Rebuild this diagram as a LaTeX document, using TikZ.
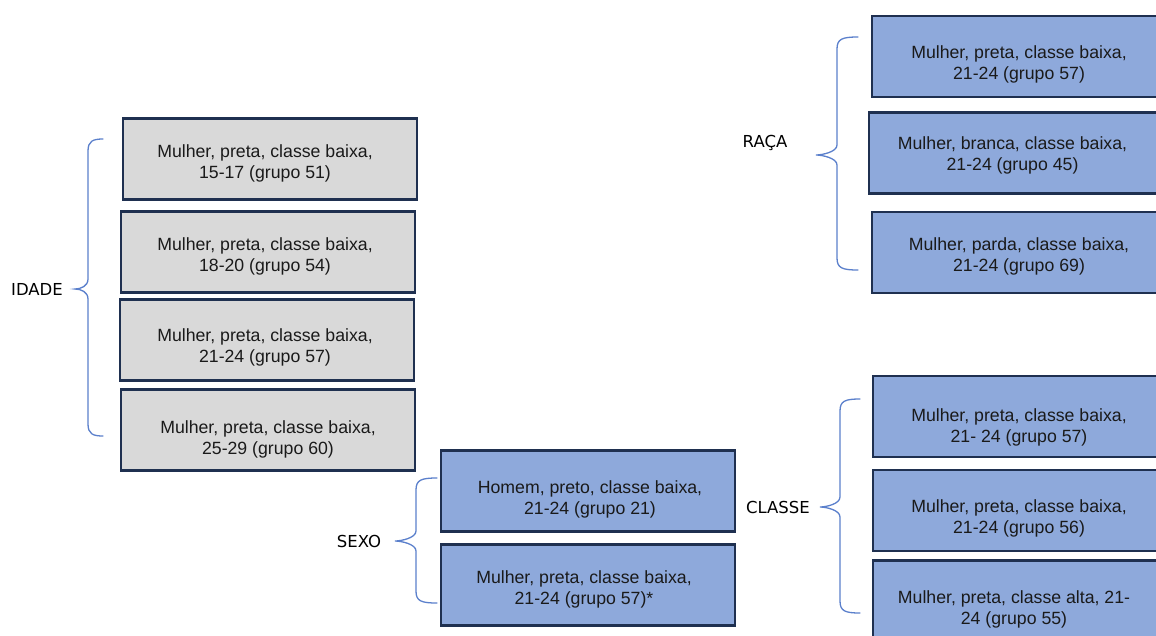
\documentclass[tikz,border=0pt]{standalone}
\usepackage{fontspec}
\setmainfont{Liberation Sans}
\newfontfamily\labfont{DejaVu Sans}
\definecolor{boxborder}{HTML}{1F3050}
\definecolor{grayfill}{HTML}{D9D9D9}
\definecolor{bluefill}{HTML}{8EA9DB}
\definecolor{bracecol}{HTML}{5B80CC}
\definecolor{txt}{HTML}{1A1A1A}
\newcommand\mybrace[6]{%
  \draw[bracecol,line width=1.3pt,line cap=round]
    (#1,#4) .. controls ({#2+5},#4) and (#2,{#4+2}) .. (#2,{#4+12})
    -- (#2,{#5-10}) .. controls (#2,{#5-3}) and ({#3+6},#5) .. (#3,#5)
    .. controls ({#3+6},#5) and (#2,{#5+3}) .. (#2,{#5+10})
    -- (#2,{#6-12}) .. controls (#2,{#6-2}) and ({#2+5},#6) .. (#1,#6);}
\tikzset{
  cbox/.style={draw=boxborder,line width=2.6pt,inner sep=0pt,minimum height=81pt},
  gbox/.style={cbox,fill=grayfill,minimum width=294pt},
  bbox/.style={cbox,fill=bluefill},
  btxt/.style={align=center,text=txt,font=\fontsize{17.7}{21}\selectfont,inner sep=0pt},
  lab/.style={font=\labfont\fontsize{16.5}{19}\selectfont,text=black,inner sep=0pt}
}
\begin{document}
\begin{tikzpicture}[x=1pt,y=-1pt]
\clip (0,0) rectangle (1156,635);
\fill[white] (0,0) rectangle (1156,635);
% IDADE
\node[gbox] (i1) at (270,159) {};
\node[btxt] (i1t) at (265,163) {Mulher, preta, classe baixa,\\15-17 (grupo 51)};
\node[gbox] (i2) at (268,252) {};
\node[btxt] (i2t) at (265,256) {Mulher, preta, classe baixa,\\18-20 (grupo 54)};
\node[gbox] (i3) at (267,340) {};
\node[btxt] (i3t) at (265,347) {Mulher, preta, classe baixa,\\21-24 (grupo 57)};
\node[gbox] (i4) at (268,430) {};
\node[btxt] (i4t) at (268,439) {Mulher, preta, classe baixa,\\25-29 (grupo 60)};
\node[lab] (lidade) at (37,289) {IDADE};
\mybrace{103}{88}{75}{139}{289}{436}
% RACA
\node[bbox,minimum width=292pt] (r1) at (1018,56.5) {};
\node[btxt] (r1t) at (1019,64) {Mulher, preta, classe baixa,\\21-24 (grupo 57)};
\node[bbox,minimum width=295pt] (r2) at (1016.5,153) {};
\node[btxt] (r2t) at (1012.5,155) {Mulher, branca, classe baixa,\\21-24 (grupo 45)};
\node[bbox,minimum width=292pt] (r3) at (1018,252.5) {};
\node[btxt] (r3t) at (1019,256) {Mulher, parda, classe baixa,\\21-24 (grupo 69)};
\node[lab] (lraca) at (765,143) {RAÇA};
\mybrace{858}{837}{816}{37}{155}{270}
% SEXO
\node[gbox,fill=bluefill] (s1) at (588,491) {};
\node[btxt] (s1t) at (590,499) {Homem, preto, classe baixa,\\21-24 (grupo 21)};
\node[gbox,fill=bluefill] (s2) at (588,585) {};
\node[btxt] (s2t) at (584,589) {Mulher, preta, classe baixa,\\21-24 (grupo 57)*};
\node[lab] (lsexo) at (359,541) {SEXO};
\mybrace{437}{416}{395}{478}{541}{603}
% CLASSE
\node[bbox,minimum width=292pt] (c1) at (1019,416.5) {};
\node[btxt] (c1t) at (1019,427) {Mulher, preta, classe baixa,\\21- 24 (grupo 57)};
\node[bbox,minimum width=292pt] (c2) at (1019,510.5) {};
\node[btxt] (c2t) at (1019,518) {Mulher, preta, classe baixa,\\21-24 (grupo 56)};
\node[bbox,minimum width=292pt] (c3) at (1019,601) {};
\node[btxt] (c3t) at (1014,609) {Mulher, preta, classe alta, 21-\\24 (grupo 55)};
\node[lab] (lclasse) at (778,507) {CLASSE};
\mybrace{860}{840}{820}{399}{507}{613}
\end{tikzpicture}
\end{document}
